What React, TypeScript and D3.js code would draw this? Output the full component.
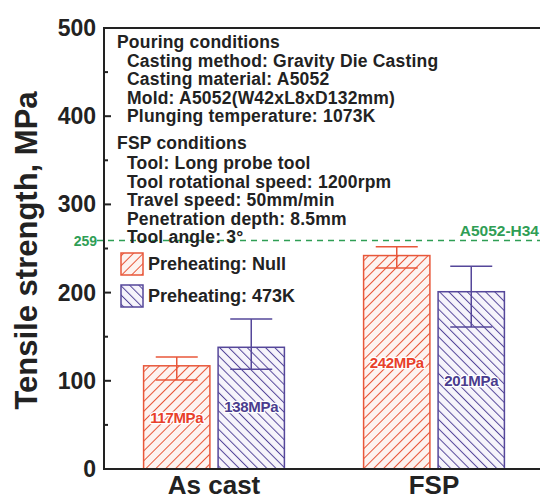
import React, { useEffect, useRef } from "react";
import * as d3 from "d3";

// data
const categories = ["As cast", "FSP"];
const series = ["Preheating: Null", "Preheating: 473K"];
const strength = [
  [117, 138],
  [242, 201],
];
const errLow = [
  [101, 113],
  [228, 161],
];
const errHigh = [
  [127, 170],
  [252, 230],
];
const valueLabels = [
  ["117MPa", "138MPa"],
  ["242MPa", "201MPa"],
];
const labelAt = [
  [58, 70],
  [120, 100],
];
const yTicks = [0, 100, 200, 300, 400, 500];
const yMinor = [50, 150, 250, 350, 450];
const refValue = 259;
const refName = "A5052-H34";
const pouringLines = [
  "Casting method: Gravity Die Casting",
  "Casting material: A5052",
  "Mold: A5052(W42xL8xD132mm)",
  "Plunging temperature: 1073K",
];
const fspLines = [
  "Tool: Long probe tool",
  "Tool rotational speed: 1200rpm",
  "Travel speed: 50mm/min",
  "Penetration depth: 8.5mm",
  "Tool angle: 3°",
];

const W = 540;
const H = 500;
const FONT = "'Liberation Sans', Arial, sans-serif";
const colors = ["#e8573a", "#55479a"];
const fills = ["#fdf3f0", "#f6f4fb"];
const txtColors = ["#e8402a", "#4a3c8e"];

const App = () => {
  const svgRef = useRef<SVGSVGElement>(null);

  useEffect(() => {
    const svg = d3.select(svgRef.current);
    svg.selectAll("*").remove();

    const left = 104;
    const right = 544;
    const y = d3.scaleLinear().domain([0, 500]).range([469, 28]);
    const x0 = d3
      .scaleBand()
      .domain(categories)
      .range([left, right])
      .paddingInner(0.36)
      .paddingOuter(0.18);
    const x1 = d3
      .scaleBand()
      .domain(series)
      .range([0, x0.bandwidth()])
      .paddingInner(0.11);

    const defs = svg.append("defs");
    series.forEach((s, i) => {
      const p = defs
        .append("pattern")
        .attr("id", "hatch" + i)
        .attr("patternUnits", "userSpaceOnUse")
        .attr("width", i == 0 ? 7 : 6.5)
        .attr("height", 10)
        .attr("patternTransform", `rotate(${i == 0 ? 45 : -45})`);
      p.append("rect").attr("width", 10).attr("height", 10).attr("fill", fills[i]);
      p.append("line")
        .attr("x1", 0.5)
        .attr("x2", 0.5)
        .attr("y1", 0)
        .attr("y2", 10)
        .attr("stroke", colors[i])
        .attr("stroke-width", 1);
    });

    // bars
    categories.forEach((c, ci) => {
      series.forEach((s, si) => {
        const bx = x0(c)! + x1(s)!;
        const bw = x1.bandwidth();
        const v = strength[ci][si];
        svg
          .append("rect")
          .attr("x", bx)
          .attr("y", y(v))
          .attr("width", bw)
          .attr("height", y(0) - y(v))
          .attr("fill", `url(#hatch${si})`)
          .attr("stroke", colors[si])
          .attr("stroke-width", 1.5);
      });
    });

    // reference line
    svg
      .append("line")
      .attr("x1", 97)
      .attr("x2", W)
      .attr("y1", y(refValue))
      .attr("y2", y(refValue))
      .attr("stroke", "#2f9e55")
      .attr("stroke-width", 1.5)
      .attr("stroke-dasharray", "6,5");
    svg
      .append("text")
      .attr("x", 97)
      .attr("y", y(refValue) + 5)
      .attr("text-anchor", "end")
      .attr("font-size", 14)
      .attr("font-weight", "bold")
      .attr("fill", "#2f9e55")
      .attr("font-family", FONT)
      .text(String(refValue));
    svg
      .append("text")
      .attr("x", 539)
      .attr("y", y(refValue) - 5)
      .attr("text-anchor", "end")
      .attr("font-size", 15.5)
      .attr("font-weight", "bold")
      .attr("fill", "#2f9e55")
      .attr("font-family", FONT)
      .text(refName);

    // error bars + value labels
    categories.forEach((c, ci) => {
      series.forEach((s, si) => {
        const cx = x0(c)! + x1(s)! + x1.bandwidth() / 2;
        const g = svg.append("g").attr("stroke", colors[si]).attr("stroke-width", 1.5);
        g.append("line")
          .attr("x1", cx)
          .attr("x2", cx)
          .attr("y1", y(errLow[ci][si]))
          .attr("y2", y(errHigh[ci][si]));
        [errLow[ci][si], errHigh[ci][si]].forEach((e) => {
          g.append("line")
            .attr("x1", cx - 21)
            .attr("x2", cx + 21)
            .attr("y1", y(e))
            .attr("y2", y(e));
        });
        svg
          .append("text")
          .attr("x", cx)
          .attr("y", y(labelAt[ci][si]) + 5)
          .attr("text-anchor", "middle")
          .attr("font-size", 15)
          .attr("font-weight", "bold")
          .attr("font-family", FONT)
          .attr("fill", txtColors[si])
          .attr("stroke", "#fff")
          .attr("stroke-width", 2.5)
          .attr("paint-order", "stroke")
          .attr("letter-spacing", -0.3)
          .text(valueLabels[ci][si]);
      });
    });

    // axes frame
    const axisColor = "#222";
    svg
      .append("path")
      .attr("d", `M${W},${y(500)}H${left}V${y(0)}H${W}`)
      .attr("fill", "none")
      .attr("stroke", axisColor)
      .attr("stroke-width", 2);

    yTicks.forEach((t) => {
      if (t > 0 && t < 500)
        svg
          .append("line")
          .attr("x1", left)
          .attr("x2", left + 7)
          .attr("y1", y(t))
          .attr("y2", y(t))
          .attr("stroke", axisColor)
          .attr("stroke-width", 2);
      svg
        .append("text")
        .attr("x", left - 8)
        .attr("y", y(t) + 8)
        .attr("text-anchor", "end")
        .attr("font-size", 23)
        .attr("font-weight", "bold")
        .attr("font-family", FONT)
        .attr("fill", axisColor)
        .text(String(t));
    });
    yMinor.forEach((t) => {
      svg
        .append("line")
        .attr("x1", left)
        .attr("x2", left + 4)
        .attr("y1", y(t))
        .attr("y2", y(t))
        .attr("stroke", axisColor)
        .attr("stroke-width", 2);
    });

    categories.forEach((c) => {
      svg
        .append("text")
        .attr("x", x0(c)! + x0.bandwidth() / 2)
        .attr("y", 494)
        .attr("text-anchor", "middle")
        .attr("font-size", 26)
        .attr("font-weight", "bold")
        .attr("font-family", FONT)
        .attr("fill", axisColor)
        .text(c);
    });

    svg
      .append("text")
      .attr("transform", `translate(37,${(y(0) + y(500)) / 2 + 2}) rotate(-90)`)
      .attr("text-anchor", "middle")
      .attr("font-size", 31)
      .attr("font-weight", "bold")
      .attr("font-family", FONT)
      .attr("fill", axisColor)
      .text("Tensile strength, MPa");

    // conditions text
    const info = svg
      .append("g")
      .attr("font-size", 17.5)
      .attr("font-weight", "bold")
      .attr("font-family", FONT)
      .attr("letter-spacing", 0.2)
      .attr("fill", "#222");
    info.append("text").attr("x", 117).attr("y", 48).text("Pouring conditions");
    pouringLines.forEach((l, i) => {
      info.append("text").attr("x", 127).attr("y", 66.5 + i * 18.5).text(l);
    });
    info.append("text").attr("x", 117).attr("y", 149).text("FSP conditions");
    fspLines.forEach((l, i) => {
      info.append("text").attr("x", 127).attr("y", 169 + i * 18.5).text(l);
    });

    // legend
    series.forEach((s, i) => {
      const ly = 253 + i * 32;
      svg
        .append("rect")
        .attr("x", 121)
        .attr("y", ly)
        .attr("width", 22)
        .attr("height", 22)
        .attr("fill", `url(#hatch${i})`)
        .attr("stroke", colors[i])
        .attr("stroke-width", 1.5);
      svg
        .append("text")
        .attr("x", 148)
        .attr("y", ly + 17)
        .attr("font-size", 18)
        .attr("font-weight", "bold")
        .attr("font-family", FONT)
        .attr("fill", "#222")
        .text(s);
    });
  }, []);

  return (
    <svg
      ref={svgRef}
      width={W}
      height={H}
      style={{ position: "absolute", left: 0, top: 0, background: "#fff" }}
    />
  );
};

export default App;
